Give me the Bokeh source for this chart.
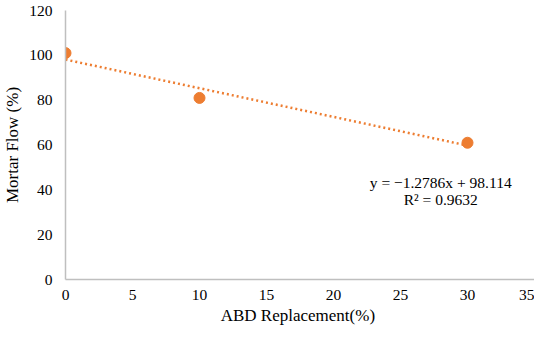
from bokeh.plotting import figure
from bokeh.models import Range1d, FixedTicker, ColumnDataSource
from bokeh.embed import file_html
from bokeh.resources import INLINE
from bokeh.core.properties import value

# Data
replacement = [0, 10, 30]
mortar_flow = [101, 81, 61]
slope = -1.2786
intercept = 98.114
r_squared = 0.9632
x_ticks = [0, 5, 10, 15, 20, 25, 30, 35]
y_ticks = [0, 20, 40, 60, 80, 100, 120]

FONT = "Liberation Serif"
ORANGE = "#ED7D31"
AXIS_GRAY = "#BFBFBF"

p = figure(width=534, height=327, output_backend="svg", toolbar_location=None,
           x_range=Range1d(0, 35), y_range=Range1d(0, 120),
           min_border_left=61, min_border_right=0, min_border_top=10, min_border_bottom=47)
p.outline_line_color = None
p.xgrid.grid_line_color = None
p.ygrid.grid_line_color = None

for ax in (p.xaxis, p.yaxis):
    ax.axis_line_color = AXIS_GRAY
    ax.axis_line_width = 1.5
    ax.major_tick_line_color = None
    ax.minor_tick_line_color = None
    ax.major_tick_out = 0
    ax.major_tick_in = 0
    ax.major_label_text_font = FONT
    ax.major_label_text_font_size = "15.5px"
    ax.major_label_text_color = "#000000"
    ax.axis_label_text_font = FONT
    ax.axis_label_text_font_size = "17px"
    ax.axis_label_text_font_style = "normal"
    ax.axis_label_text_color = "#000000"

p.xaxis.ticker = FixedTicker(ticks=x_ticks)
p.yaxis.ticker = FixedTicker(ticks=y_ticks)
p.xaxis.major_label_standoff = 10
p.yaxis.major_label_standoff = 13
p.xaxis.axis_label = "ABD  Replacement(%)"
p.yaxis.axis_label = "Mortar Flow (%)"
p.xaxis.axis_label_standoff = 3
p.yaxis.axis_label_standoff = 4

# trendline
tx = [min(replacement), max(replacement)]
ty = [slope * v + intercept for v in tx]
p.line(tx, ty, line_color=ORANGE, line_width=2.5, line_dash="2 3")

src = ColumnDataSource(dict(x=replacement, y=mortar_flow))
p.scatter("x", "y", source=src, size=11, fill_color=ORANGE, line_color=ORANGE)

eq1 = "y = \u22121.2786x + 98.114"
eq2 = "R\u00b2 = 0.9632"
p.text(x=[28.0, 28.0], y=[43.4, 35.8], text=[eq1, eq2],
       text_font=value(FONT), text_font_size="15.5px", text_color="#000000",
       text_align="center", text_baseline="middle")

open("out.html", "w").write(file_html(p, INLINE))
